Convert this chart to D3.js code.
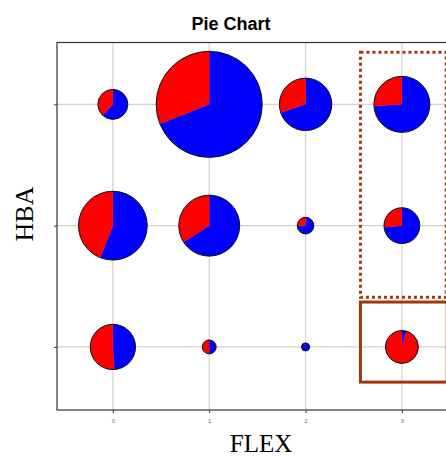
<!DOCTYPE html>
<html>
<head>
<meta charset="utf-8">
<script src="https://cdn.jsdelivr.net/npm/d3@7"></script>
<style>
  html, body { margin: 0; padding: 0; background: #fff; }
  svg { display: block; overflow: hidden; }
</style>
</head>
<body>
<svg id="chart" width="446" height="457"></svg>
<script>
// data
var flexLevels = [0, 1, 2, 3];
var flexTickLabels = ['0', '1', '2', '3'];
var hbaLevels = [0, 1, 2];

// totals per cell, rows listed bottom (hba 0) to top (hba 2)
var totalsHba0 = [32, 3, 1, 17];
var totalsHba1 = [74, 58, 4.3, 20];
var totalsHba2 = [14, 176, 43, 49];

// share of blue in each pie, same order
var blueHba0 = [0.49, 0.5, 1.0, 0.045];
var blueHba1 = [0.56, 0.66, 0.75, 0.735];
var blueHba2 = [0.62, 0.69, 0.70, 0.74];

// highlighted regions (data space)
var dottedBoxX = [2.57, 3.46];
var dottedBoxY = [0.41, 2.43];
var solidBoxX = [2.57, 3.47];
var solidBoxY = [-0.29, 0.37];

(function PieGridChart() {
  'use strict';

  var _svg = d3.select('#chart');
  var _left = 57, _right = 465, _top = 42.5, _bottom = 410;

  var x = d3.scaleLinear().domain([-0.58, 3.655]).range([_left, _right]);
  var y = d3.scaleLinear().domain([-0.52, 2.51]).range([_bottom, _top]);
  var r = d3.scaleSqrt().domain([0, 176]).range([0, 53]);

  var totals = [totalsHba0, totalsHba1, totalsHba2];
  var blues = [blueHba0, blueHba1, blueHba2];

  var cells = [];
  hbaLevels.forEach(function (h, i) {
    flexLevels.forEach(function (f, j) {
      cells.push({ flex: f, hba: h, total: totals[i][j], blue: blues[i][j] });
    });
  });

  // title
  _svg.append('text')
    .attr('x', 231).attr('y', 30)
    .attr('text-anchor', 'middle')
    .style('font-family', '"Liberation Sans", Arial, sans-serif')
    .style('font-weight', 'bold')
    .style('font-size', '18px')
    .text('Pie Chart');

  // grid
  var grid = _svg.append('g');
  grid.selectAll('line.v').data(flexLevels).enter().append('line')
    .attr('x1', x).attr('x2', x)
    .attr('y1', _top).attr('y2', _bottom)
    .style('stroke', '#d4d2cc').style('stroke-width', 1.2);
  grid.selectAll('line.h').data(hbaLevels).enter().append('line')
    .attr('x1', _left).attr('x2', _right)
    .attr('y1', y).attr('y2', y)
    .style('stroke', '#d4d2cc').style('stroke-width', 1.2);

  // highlight boxes
  _svg.append('rect')
    .attr('x', x(dottedBoxX[0])).attr('y', y(dottedBoxY[1]))
    .attr('width', x(dottedBoxX[1]) - x(dottedBoxX[0]))
    .attr('height', y(dottedBoxY[0]) - y(dottedBoxY[1]))
    .style('fill', 'none')
    .style('stroke', '#a0380c')
    .style('stroke-width', 3)
    .style('stroke-dasharray', '3,3');

  _svg.append('rect')
    .attr('x', x(solidBoxX[0])).attr('y', y(solidBoxY[1]))
    .attr('width', x(solidBoxX[1]) - x(solidBoxX[0]))
    .attr('height', y(solidBoxY[0]) - y(solidBoxY[1]))
    .style('fill', 'none')
    .style('stroke', '#a0380c')
    .style('stroke-width', 3);

  // pies
  var pie = d3.pie().sort(null).value(function (d) { return d; });
  var arc = d3.arc().innerRadius(0);
  var colors = ['#0000ff', '#ff0000'];

  var g = _svg.selectAll('g.pie').data(cells).enter().append('g')
    .attr('transform', function (d) { return 'translate(' + x(d.flex) + ',' + y(d.hba) + ')'; });

  g.each(function (d) {
    var rad = r(d.total);
    var sel = d3.select(this);
    sel.selectAll('path').data(pie([d.blue, 1 - d.blue])).enter().append('path')
      .attr('d', function (s) { return arc.outerRadius(rad)(s); })
      .style('fill', function (s, i) { return colors[i]; })
      .style('stroke', function (s, i) { return colors[i]; })
      .style('stroke-width', 0.3);
    sel.append('circle')
      .attr('r', rad)
      .style('fill', 'none')
      .style('stroke', '#111')
      .style('stroke-width', 1);
  });

  // frame
  _svg.append('rect')
    .attr('x', _left).attr('y', _top)
    .attr('width', _right - _left).attr('height', _bottom - _top)
    .style('fill', 'none').style('stroke', '#333').style('stroke-width', 1.2);

  // axes
  var xAxis = d3.axisBottom(x).tickValues(flexLevels)
    .tickFormat(function (d, i) { return flexTickLabels[i]; })
    .tickSize(3).tickSizeOuter(0).tickPadding(6);
  var gx = _svg.append('g').attr('transform', 'translate(0,' + _bottom + ')').call(xAxis);
  gx.select('.domain').remove();
  gx.selectAll('line').style('stroke', '#333');
  gx.selectAll('text')
    .style('font-family', '"Liberation Sans", Arial, sans-serif')
    .style('font-size', '5px').style('fill', '#555');

  var yAxis = d3.axisLeft(y).tickValues(hbaLevels).tickFormat('')
    .tickSize(3).tickSizeOuter(0);
  var gy = _svg.append('g').attr('transform', 'translate(' + _left + ',0)').call(yAxis);
  gy.select('.domain').remove();
  gy.selectAll('line').style('stroke', '#333');

  // axis titles
  _svg.append('text')
    .attr('x', 261).attr('y', 452)
    .attr('text-anchor', 'middle')
    .style('font-family', '"Liberation Serif", "Times New Roman", serif')
    .style('font-size', '25px')
    .text('FLEX');

  _svg.append('text')
    .attr('transform', 'translate(33,214) rotate(-90)')
    .attr('text-anchor', 'middle')
    .style('font-family', '"Liberation Serif", "Times New Roman", serif')
    .style('font-size', '26px')
    .text('HBA');
})();
</script>
</body>
</html>
